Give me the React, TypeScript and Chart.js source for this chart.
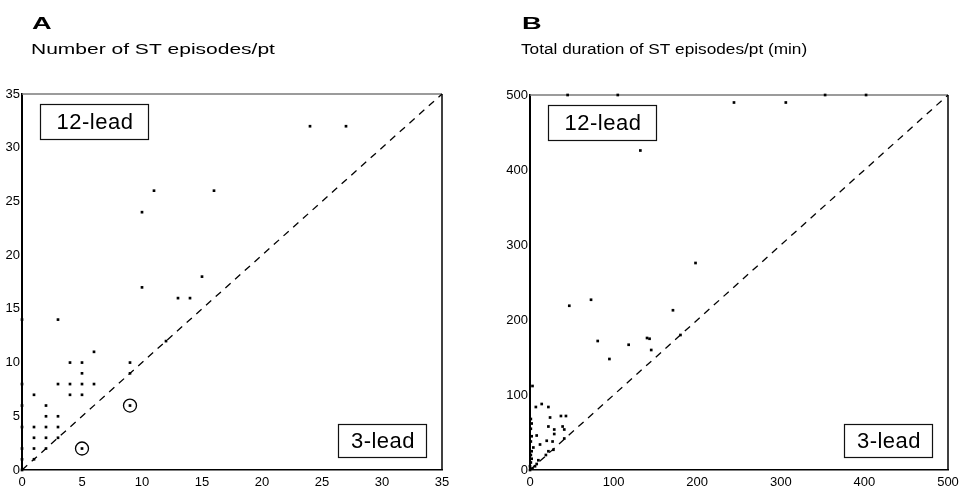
import React, { useEffect, useRef } from "react";
import { Chart, registerables } from "chart.js";

Chart.register(...registerables);

// ---------- Data ----------
const ticksA = [0, 5, 10, 15, 20, 25, 30, 35];
const ticksB = [0, 100, 200, 300, 400, 500];
const diagA = [0, 35];
const diagB = [0, 500];

// Panel A: 3-lead (x) vs 12-lead (y) number of ST episodes per patient
const threeLeadCountA = [0, 0, 0, 0, 0, 0, 0, 1, 1, 1, 1, 1, 2, 2, 2, 2, 2, 3, 3, 3, 3, 3, 4, 4, 4, 5, 5, 5, 5, 6, 6, 9, 9, 10, 10, 11, 12, 13, 14, 15, 16, 24, 27];
const twelveLeadCountA = [0, 1, 2, 4, 6, 8, 14, 1, 2, 3, 4, 7, 2, 3, 4, 5, 6, 3, 4, 5, 8, 14, 7, 8, 10, 7, 8, 9, 10, 8, 11, 9, 10, 17, 24, 26, 12, 16, 16, 18, 26, 32, 32];
const circledXA = [5, 9];
const circledYA = [2, 6];

// Panel B: total duration (min)
const threeLeadDurB = [45, 105, 132, 198, 244, 306, 353, 402, 47, 73, 81, 95, 118, 140, 143, 145, 171, 180, 3, 7, 14, 22, 24, 37, 43, 22, 39, 41, 29, 29, 27, 20, 28, 22, 19, 8, 12, 10, 8, 6, 41, 1, 2, 1, 2, 1, 2, 1, 2, 1, 0, 3, 4, 0];
const twelveLeadDurB = [500, 500, 426, 276, 490, 490, 500, 500, 219, 227, 172, 148, 167, 176, 175, 160, 213, 180, 112, 84, 88, 84, 70, 72, 72, 58, 58, 54, 54, 48, 38, 39, 27, 25, 20, 46, 34, 13, 8, 5, 42, 68, 62, 55, 45, 38, 25, 20, 15, 10, 5, 2, 30, 0];

const letters = ["A", "B"];
const subtitles = ["Number of ST episodes/pt", "Total duration of ST episodes/pt (min)"];
const upperBoxLabel = "12-lead";
const lowerBoxLabel = "3-lead";

const FONT = "'Liberation Sans', Arial, sans-serif";

type PanelCfg = {
  xs: number[];
  ys: number[];
  cx?: number[];
  cy?: number[];
  diag: number[];
  ticks: number[];
  max: number;
  letter: string;
  subtitle: string;
  subScale: number;
  padLeft: number;
  padRight: number;
  padTop: number;
  yWidth: number;
  textLeft: number;
};

function makeDecor(cfg: PanelCfg) {
  return {
    id: "decor" + cfg.letter,
    beforeDatasetsDraw(chart: any) {
      const ctx = chart.ctx as CanvasRenderingContext2D;
      const a = chart.chartArea;
      ctx.save();
      ctx.strokeStyle = "#7a7a7a";
      ctx.lineWidth = 1.5;
      ctx.beginPath();
      ctx.moveTo(a.left, a.top);
      ctx.lineTo(a.right, a.top);
      ctx.stroke();
      ctx.strokeStyle = "#000";
      ctx.beginPath();
      ctx.moveTo(a.right, a.top);
      ctx.lineTo(a.right, a.bottom);
      ctx.stroke();
      ctx.restore();
    },
    afterDatasetsDraw(chart: any) {
      const ctx = chart.ctx as CanvasRenderingContext2D;
      const a = chart.chartArea;
      ctx.save();
      const drawBox = (x: number, y: number, w: number, h: number, t: string) => {
        ctx.fillStyle = "#fff";
        ctx.fillRect(x, y, w, h);
        ctx.strokeStyle = "#111";
        ctx.lineWidth = 1.2;
        ctx.strokeRect(x + 0.5, y + 0.5, w, h);
        ctx.fillStyle = "#000";
        ctx.font = `22px ${FONT}`;
        (ctx as any).letterSpacing = "0.5px";
        ctx.textAlign = "center";
        ctx.textBaseline = "middle";
        ctx.fillText(t, x + w / 2 + 1, y + h / 2 + 1);
        (ctx as any).letterSpacing = "0px";
      };
      drawBox(a.left + 18, a.top + 10, 108, 35, upperBoxLabel);
      drawBox(a.right - 104, a.bottom - 46, 88, 33, lowerBoxLabel);

      ctx.fillStyle = "#000";
      ctx.textAlign = "left";
      ctx.textBaseline = "alphabetic";
      ctx.save();
      ctx.translate(cfg.textLeft, 29);
      ctx.scale(1.6, 1);
      ctx.font = `bold 17px ${FONT}`;
      ctx.fillText(cfg.letter, 0, 0);
      ctx.restore();
      ctx.save();
      ctx.translate(cfg.textLeft - 1, 54);
      ctx.scale(cfg.subScale, 1);
      ctx.font = `14px ${FONT}`;
      ctx.fillText(cfg.subtitle, 0, 0);
      ctx.restore();
      ctx.restore();
    },
  };
}

function Panel({ cfg, left }: { cfg: PanelCfg; left: number }) {
  const ref = useRef<HTMLCanvasElement | null>(null);
  useEffect(() => {
    if (!ref.current) return;
    const pts = cfg.xs.map((x, i) => ({ x, y: cfg.ys[i] }));
    const circ = cfg.cx && cfg.cy ? cfg.cx.map((x, i) => ({ x, y: cfg.cy![i] })) : [];
    const datasets: any[] = [
      {
        label: "diag",
        data: cfg.diag.map((v) => ({ x: v, y: v })),
        showLine: true,
        borderColor: "#000",
        borderWidth: 1.3,
        borderDash: [7, 6],
        pointRadius: 0,
        clip: false,
      },
      {
        label: "patients",
        data: pts.concat(circ),
        pointStyle: "rect",
        pointRadius: 1.9,
        backgroundColor: "#000",
        borderColor: "#000",
        borderWidth: 0,
        clip: false,
      },
    ];
    if (circ.length) {
      datasets.push({
        label: "circled",
        data: circ,
        pointStyle: "circle",
        pointRadius: 6.5,
        backgroundColor: "rgba(0,0,0,0)",
        borderColor: "#000",
        borderWidth: 1.3,
        clip: false,
      });
    }
    const tickFont = { family: FONT, size: 13 };
    const chart = new Chart(ref.current, {
      type: "scatter",
      data: { datasets },
      options: {
        responsive: false,
        animation: false,
        devicePixelRatio: 1,
        layout: { padding: { top: cfg.padTop, right: cfg.padRight, left: cfg.padLeft, bottom: 0 } },
        plugins: { legend: { display: false }, tooltip: { enabled: false }, title: { display: false } },
        scales: {
          x: {
            type: "linear",
            min: 0,
            max: cfg.max,
            afterBuildTicks: (s: any) => {
              s.ticks = cfg.ticks.map((v) => ({ value: v }));
            },
            afterFit: (s: any) => {
              s.height = 26;
            },
            grid: { display: false, drawTicks: false },
            border: { display: true, color: "#000", width: 1.5 },
            ticks: { color: "#000", font: tickFont, padding: 5, maxRotation: 0, autoSkip: false },
          },
          y: {
            type: "linear",
            min: 0,
            max: cfg.max,
            afterBuildTicks: (s: any) => {
              s.ticks = cfg.ticks.map((v) => ({ value: v }));
            },
            afterFit: (s: any) => {
              s.width = cfg.yWidth;
            },
            grid: { display: false, drawTicks: false },
            border: { display: true, color: "#000", width: 2 },
            ticks: { color: "#000", font: tickFont, padding: 2, autoSkip: false },
          },
        },
      } as any,
      plugins: [makeDecor(cfg)],
    });
    return () => chart.destroy();
  }, [cfg]);
  return (
    <canvas
      ref={ref}
      width={482}
      height={496}
      style={{ position: "absolute", left, top: 0, width: 482, height: 496 }}
    />
  );
}

const cfgA: PanelCfg = {
  xs: threeLeadCountA,
  ys: twelveLeadCountA,
  cx: circledXA,
  cy: circledYA,
  diag: diagA,
  ticks: ticksA,
  max: 35,
  letter: letters[0],
  subtitle: subtitles[0],
  subScale: 1.5,
  padLeft: 0,
  padRight: 40,
  padTop: 94,
  yWidth: 22,
  textLeft: 32,
};

const cfgB: PanelCfg = {
  xs: threeLeadDurB,
  ys: twelveLeadDurB,
  diag: diagB,
  ticks: ticksB,
  max: 500,
  letter: letters[1],
  subtitle: subtitles[1],
  subScale: 1.23,
  padLeft: 22,
  padRight: 16,
  padTop: 95,
  yWidth: 26,
  textLeft: 40,
};

export default function App() {
  return (
    <div style={{ position: "absolute", left: 0, top: 0, width: 964, height: 496, background: "#fff" }}>
      <Panel cfg={cfgA} left={0} />
      <Panel cfg={cfgB} left={482} />
    </div>
  );
}
